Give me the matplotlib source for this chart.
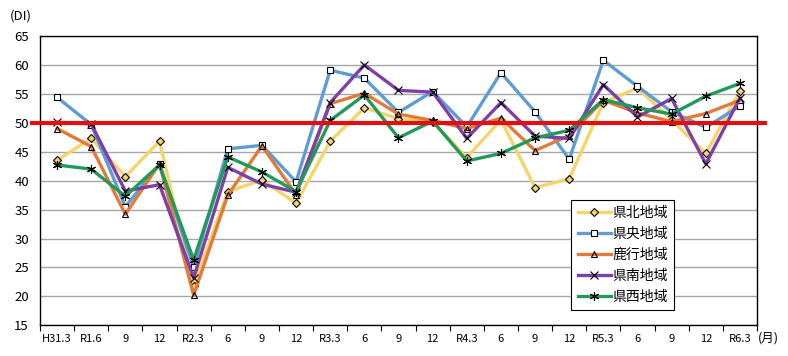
import matplotlib
matplotlib.use("Agg")
import matplotlib.pyplot as plt
import numpy as np

plt.rcParams['font.family'] = ['Noto Sans CJK JP', 'DejaVu Sans']

categories = ["H31.3", "R1.6", "9", "12", "R2.3", "6", "9", "12", "R3.3", "6", "9", "12",
              "R4.3", "6", "9", "12", "R5.3", "6", "9", "12", "R6.3"]

kenpoku = [43.5, 47.3, 40.7, 46.8, 21.8, 38.1, 40.1, 36.1, 46.8, 52.6, 50.7, 50.2,
           44.0, 50.5, 38.8, 40.3, 53.5, 56.0, 50.5, 44.7, 55.5]
kenou = [54.4, 49.7, 35.5, 42.8, 25.0, 45.5, 46.1, 39.8, 59.1, 57.7, 51.8, 55.4,
         49.3, 58.65, 51.9, 43.7, 60.8, 56.3, 51.9, 49.2, 52.9]
rokko = [49.0, 45.9, 34.2, 42.9, 20.2, 37.5, 46.0, 37.6, 53.3, 55.1, 51.5, 50.4,
         49.0, 50.8, 45.2, 47.8, 53.9, 51.7, 50.2, 51.6, 53.9]
kennan = [50.1, 49.8, 38.2, 39.3, 23.2, 42.3, 39.4, 38.0, 53.5, 60.0, 55.6, 55.3,
          47.3, 53.5, 47.7, 47.3, 56.6, 51.0, 54.2, 42.9, 54.3]
kensei = [42.7, 42.0, 37.3, 42.7, 26.3, 44.1, 41.5, 38.1, 50.4, 54.8, 47.4, 50.3,
          43.4, 44.7, 47.4, 48.7, 54.0, 52.6, 51.5, 54.6, 56.8]

series_names = ["県北地域", "県央地域", "鹿行地域", "県南地域", "県西地域"]
series_values = [kenpoku, kenou, rokko, kennan, kensei]
colors = ["#F5D46A", "#5E9CD3", "#E07B39", "#7E3FA8", "#21995A"]
markers = ["D", "s", "^", "x", (6, 2, 0)]
msizes = [4.5, 5, 5, 6, 6.5]
faces = ["#F5D46A", "white", "none", "none", "none"]

fig = plt.figure(figsize=(7.88, 3.56), dpi=100)
ax = fig.add_axes([40/788, 1-325.3/356, 717/788, (325.3-36)/356])

x = np.arange(len(categories))
for name, vals, c, m, ms, fc in zip(series_names, series_values, colors, markers, msizes, faces):
    ax.plot(x, vals, color=c, lw=2.4, marker=m, markersize=ms,
            markeredgecolor="black", markerfacecolor=fc, markeredgewidth=0.8,
            label=name, zorder=3)

ax.plot([-0.72, 20.72], [50, 50], color="#E01010", lw=3, zorder=4, clip_on=False)

ax.set_xlim(-0.5, 20.5)
ax.set_ylim(15, 65)
ax.set_yticks(np.arange(15, 66, 5))
ax.yaxis.grid(True, color="#A6A6A6", lw=1)
ax.set_axisbelow(True)
ax.tick_params(axis='y', length=0, labelsize=9.5, pad=8)
ax.set_xticks(x)
ax.set_xticklabels(categories)
ax.tick_params(axis='x', which='major', length=0, labelsize=8, pad=6)
ax.set_xticks(np.arange(-0.5, 21, 1), minor=True)
ax.tick_params(axis='x', which='minor', length=4, direction='out', width=0.8)
for s in ax.spines.values():
    s.set_color("black")
    s.set_linewidth(1)

fig.text(10/788, 1-16/356, "(DI)", fontsize=9.5, va='center', ha='left')
fig.text(758/788, 1-338/356, "(月)", fontsize=9, va='center', ha='left')

leg = ax.legend(loc='upper left', bbox_to_anchor=(0.741, 0.433), fontsize=10,
                frameon=True, fancybox=False, edgecolor="black", framealpha=1,
                handlelength=2.4, handletextpad=0.1, labelspacing=0.5,
                borderpad=0.45, borderaxespad=0)
leg.get_frame().set_linewidth(0.8)

fig.savefig("out.png", dpi=100)
